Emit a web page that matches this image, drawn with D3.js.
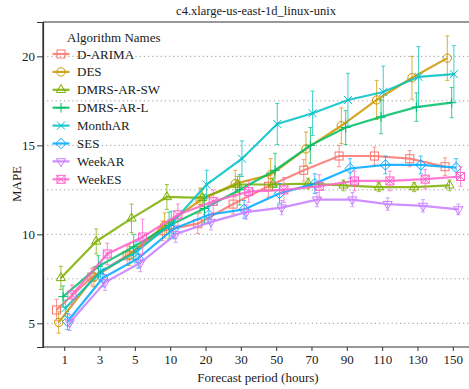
<!DOCTYPE html>
<html>
<head>
<meta charset="utf-8">
<script src="https://cdn.jsdelivr.net/npm/d3@7"></script>
<style>
  body { margin: 0; background: #fff; }
  svg text { font-family: "Liberation Serif", "DejaVu Serif", serif; fill: #1a1a1a; }
</style>
</head>
<body>
<svg id="chart"></svg>
<script>
// forecast periods (x categories)
var periods = ["1", "3", "5", "10", "20", "30", "50", "70", "90", "110", "130", "150"];
var algoNames = ["D-ARIMA", "DES", "DMRS-AR-SW", "DMRS-AR-L", "MonthAR", "SES", "WeekAR", "WeekES"];
var algoColors = ["#F8766D", "#CD9600", "#7CAE00", "#00BE67", "#00BFC4", "#00A9FF", "#C77CFF", "#FF61CC"];
var yTicks = [5, 10, 15, 20];

// mean MAPE per algorithm
var dArima   = [5.75, 7.6, 8.8, 10.2, 10.6, 11.7, 12.7, 13.6, 14.4, 14.4, 14.25, 13.8];
var des      = [5.05, 7.6, 8.85, 10.5, 11.9, 12.85, 13.35, 14.8, 16.1, 17.55, 18.8, 19.9];
var dmrsSW   = [7.55, 9.6, 10.9, 12.1, 12.05, 12.8, 12.8, 12.85, 12.75, 12.65, 12.65, 12.75];
var dmrsL    = [6.5, 8.2, 9.3, 10.5, 11.45, 12.5, 13.6, 15.0, 16.0, 16.6, 17.15, 17.4];
var monthAR  = [5.85, 7.9, 9.0, 10.6, 12.8, 14.25, 16.2, 16.8, 17.55, 18.0, 18.85, 19.0];
var ses      = [5.1, 7.55, 8.65, 10.3, 11.1, 11.4, 12.3, 12.85, 13.7, 13.9, 13.9, 13.75];
var weekAR   = [5.05, 7.3, 8.4, 10.0, 10.7, 11.25, 11.5, 11.95, 11.95, 11.7, 11.6, 11.4];
var weekES   = [6.6, 8.9, 9.85, 11.1, 11.85, 12.4, 12.5, 12.7, 13.0, 13.0, 13.1, 13.25];

// error bar half-widths
var dArimaErr  = [0.6, 0.5, 0.55, 0.55, 0.55, 0.55, 0.6, 0.6, 0.6, 0.5, 0.45, 0.5];
var desErr     = [0.6, 0.55, 0.6, 0.7, 0.7, 0.75, 0.9, 0.95, 1.0, 1.1, 1.2, 1.25];
var dmrsSWErr  = [0.65, 0.7, 0.8, 0.7, 0.5, 0.45, 0.35, 0.3, 0.3, 0.25, 0.25, 0.3];
var dmrsLErr   = [0.6, 0.6, 0.7, 0.75, 0.8, 0.85, 0.95, 1.0, 0.95, 0.95, 0.8, 0.85];
var monthARErr = [0.45, 0.5, 0.6, 0.7, 0.8, 1.0, 1.15, 1.25, 1.5, 1.45, 1.7, 1.6];
var sesErr     = [0.45, 0.5, 0.55, 0.55, 0.5, 0.5, 0.55, 0.55, 0.55, 0.5, 0.5, 0.5];
var weekARErr  = [0.45, 0.45, 0.5, 0.45, 0.45, 0.4, 0.4, 0.4, 0.4, 0.35, 0.35, 0.3];
var weekESErr  = [0.55, 0.6, 1.0, 0.6, 0.65, 0.6, 0.7, 0.65, 0.55, 0.55, 0.55, 0.55];

var seriesVals = [dArima, des, dmrsSW, dmrsL, monthAR, ses, weekAR, weekES];
var seriesErrs = [dArimaErr, desErr, dmrsSWErr, dmrsLErr, monthARErr, sesErr, weekARErr, weekESErr];

var W = 469, H = 389;
var panel = {left: 43, top: 22, right: 474, bottom: 347};

var svg = d3.select("#chart").attr("width", W).attr("height", H);

var x = d3.scalePoint().domain(periods).range([panel.left, panel.right]).padding(0.6);
var y = d3.scaleLinear().domain([3.67, 21.93]).range([panel.bottom, panel.top]);
var dodge = d3.scaleBand().domain(d3.range(algoNames.length))
    .range([-x.step() * 0.25, x.step() * 0.25]);
function dx(i) { return dodge(i) + dodge.bandwidth() / 2; }

// grid lines (major + minor), dotted
var gridVals = [5, 7.5, 10, 12.5, 15, 17.5, 20];
svg.append("g").selectAll("line").data(gridVals).enter().append("line")
    .attr("x1", panel.left).attr("x2", W)
    .attr("y1", d => y(d)).attr("y2", d => y(d))
    .attr("stroke", "#9a9a9a").attr("stroke-width", 1)
    .attr("stroke-dasharray", "1.2,3");

// shapes
function drawShape(g, shape, color, size) {
    var s = size;
    var p = g.append("g");
    var st = {stroke: color, fill: "none", "stroke-width": 1};
    function ap(el) { Object.keys(st).forEach(k => el.attr(k, st[k])); return el; }
    if (shape === 0) {
        ap(p.append("rect").attr("x", -s/2).attr("y", -s/2).attr("width", s).attr("height", s));
    } else if (shape === 1) {
        ap(p.append("circle").attr("r", s * 0.52));
    } else if (shape === 2) {
        ap(p.append("path").attr("d", d3.symbol(d3.symbolTriangle2, s * s * 0.95)()));
    } else if (shape === 3) {
        ap(p.append("path").attr("d", "M" + (-s*0.6) + ",0H" + (s*0.6) + "M0," + (-s*0.6) + "V" + (s*0.6)));
    } else if (shape === 4) {
        ap(p.append("path").attr("d", "M" + (-s/2) + "," + (-s/2) + "L" + (s/2) + "," + (s/2) + "M" + (-s/2) + "," + (s/2) + "L" + (s/2) + "," + (-s/2)));
    } else if (shape === 5) {
        ap(p.append("path").attr("d", "M0," + (-s*0.65) + "L" + (s*0.65) + ",0L0," + (s*0.65) + "L" + (-s*0.65) + ",0Z"));
    } else if (shape === 6) {
        ap(p.append("path").attr("d", d3.symbol(d3.symbolTriangle2, s * s * 0.95)()).attr("transform", "rotate(180)"));
    } else if (shape === 7) {
        ap(p.append("rect").attr("x", -s/2).attr("y", -s/2).attr("width", s).attr("height", s));
        ap(p.append("path").attr("d", "M" + (-s/2) + "," + (-s/2) + "L" + (s/2) + "," + (s/2) + "M" + (-s/2) + "," + (s/2) + "L" + (s/2) + "," + (-s/2)));
    }
    return p;
}

var plot = svg.append("g");
var line = d3.line().x(d => d.x).y(d => y(d.v));

algoNames.forEach(function(name, i) {
    var color = algoColors[i];
    var pts = periods.map((p, j) => ({x: x(p) + dx(i), v: seriesVals[i][j], e: seriesErrs[i][j]}));
    var g = plot.append("g");

    // error bars
    var eb = g.append("g").attr("stroke", color).attr("stroke-width", 1).attr("opacity", 0.75);
    eb.selectAll(".v").data(pts).enter().append("line")
        .attr("x1", d => d.x).attr("x2", d => d.x)
        .attr("y1", d => y(d.v - d.e)).attr("y2", d => y(d.v + d.e));
    eb.selectAll(".t").data(pts).enter().append("line")
        .attr("x1", d => d.x - 2).attr("x2", d => d.x + 2)
        .attr("y1", d => y(d.v + d.e)).attr("y2", d => y(d.v + d.e));
    eb.selectAll(".b").data(pts).enter().append("line")
        .attr("x1", d => d.x - 2).attr("x2", d => d.x + 2)
        .attr("y1", d => y(d.v - d.e)).attr("y2", d => y(d.v - d.e));

    g.append("path").datum(pts).attr("d", line)
        .attr("fill", "none").attr("stroke", color).attr("stroke-width", 2.2)
        .attr("opacity", 0.85);

    pts.forEach(function(d) {
        drawShape(g, i, color, 8).attr("transform", "translate(" + d.x + "," + y(d.v) + ")");
    });
});

// axes frame
svg.append("line").attr("x1", panel.left).attr("x2", panel.left).attr("y1", panel.top).attr("y2", panel.bottom)
    .attr("stroke", "#222").attr("stroke-width", 1.2);
svg.append("line").attr("x1", panel.left).attr("x2", W).attr("y1", panel.top).attr("y2", panel.top)
    .attr("stroke", "#333").attr("stroke-width", 1.2);

var xAxis = svg.append("g").attr("transform", "translate(0," + panel.bottom + ")")
    .call(d3.axisBottom(x).tickSize(4).tickPadding(4));
var yAxis = svg.append("g").attr("transform", "translate(" + panel.left + ",0)")
    .call(d3.axisLeft(y).tickValues(yTicks).tickSize(6).tickPadding(2));
[xAxis, yAxis].forEach(function(a) {
    a.select(".domain").attr("stroke", "#333").attr("stroke-width", 1.2);
    a.selectAll(".tick line").attr("stroke", "#333");
    a.selectAll("text").style("font-family", "Liberation Serif").style("font-size", "13px").attr("fill", "#1a1a1a");
});
xAxis.select(".domain").attr("d", "M" + panel.left + ",0H" + W);

// titles
svg.append("text").attr("x", 256).attr("y", 15).attr("text-anchor", "middle")
    .style("font-size", "12.5px").text("c4.xlarge-us-east-1d_linux-unix");
svg.append("text").attr("x", 258).attr("y", 382).attr("text-anchor", "middle")
    .style("font-size", "13px").text("Forecast period (hours)");
svg.append("text").attr("transform", "translate(21,184) rotate(-90)").attr("text-anchor", "middle")
    .style("font-size", "13px").text("MAPE");

// legend
var lg = svg.append("g");
lg.append("text").attr("x", 67).attr("y", 42).style("font-size", "13px").text("Algorithm Names");
algoNames.forEach(function(name, i) {
    var cy = 54 + i * 17.9;
    var k = lg.append("g").attr("transform", "translate(61," + cy + ")");
    k.append("line").attr("x1", -8.5).attr("x2", 8.5).attr("stroke", algoColors[i])
        .attr("stroke-width", 2.2).attr("opacity", 0.85);
    drawShape(k, i, algoColors[i], 8);
    lg.append("text").attr("x", 77).attr("y", cy + 4.5).style("font-size", "13px").text(name);
});
</script>
</body>
</html>
